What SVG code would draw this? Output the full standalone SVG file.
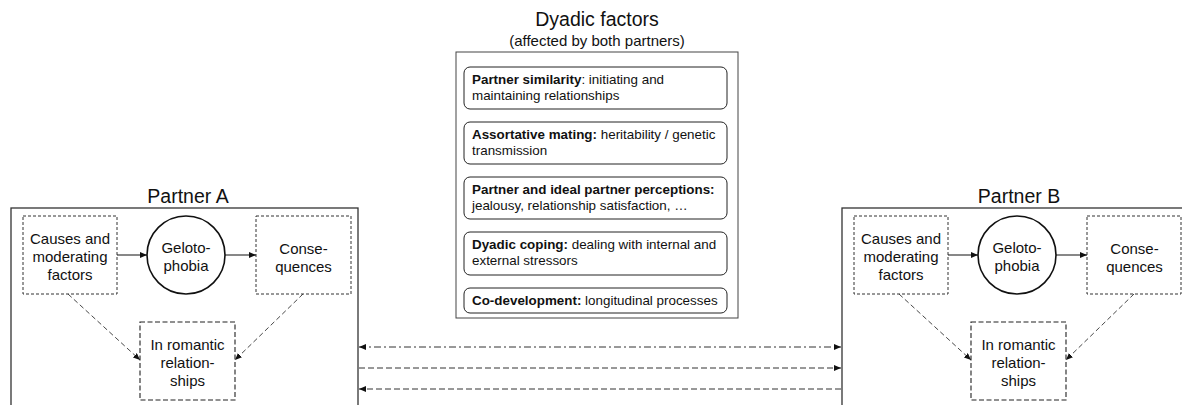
<svg xmlns="http://www.w3.org/2000/svg" width="1182" height="405" viewBox="0 0 1182 405">
  <style>
    text { font-family: "Liberation Sans", Arial, sans-serif; fill: #111; }
    .title { font-size: 19.5px; text-anchor: middle; }
    .sub { font-size: 15px; text-anchor: middle; }
    .lbl { font-size: 15px; text-anchor: middle; }
    .item { font-size: 13.4px; }
    .b { font-weight: bold; }
    .frame { fill: #fff; stroke: #333; stroke-width: 1.3; }
    .dframe { fill: #fff; stroke: #444; stroke-width: 1; }
    .item-box { fill: #fff; stroke: #222; stroke-width: 1; }
    .fine { fill: #fff; stroke: #333; stroke-width: 1; stroke-dasharray: 3 2; }
    .rom { fill: #fff; stroke: #222; stroke-width: 1.1; stroke-dasharray: 5 2.5; }
    .circ { fill: #fff; stroke: #111; stroke-width: 1.6; }
    .solid { stroke: #111; stroke-width: 1; fill: none; }
    .diag { stroke: #333; stroke-width: 0.9; fill: none; stroke-dasharray: 5 3; }
    .dashdot { stroke: #333; stroke-width: 1; fill: none; stroke-dasharray: 7 3 2 3; }
    .dash { stroke: #333; stroke-width: 1; fill: none; stroke-dasharray: 6 3; }
  </style>
  <defs>
    <marker id="head" viewBox="0 0 7 6" refX="7" refY="3" markerWidth="7" markerHeight="6" markerUnits="userSpaceOnUse" orient="auto-start-reverse">
      <path d="M0,0 L7,3 L0,6 z" fill="#111"/>
    </marker>
  </defs>

  <rect width="1182" height="405" fill="#fff"/>

  <!-- Partner A -->
  <g id="partner-a">
    <text class="title" x="188" y="203">Partner A</text>
    <rect class="frame" x="11" y="208" width="347" height="210"/>
  </g>
  <g id="a-causes">
    <rect class="fine" x="23" y="216" width="94" height="78"/>
    <text class="lbl" x="70" y="244">Causes and</text>
    <text class="lbl" x="70" y="262">moderating</text>
    <text class="lbl" x="70" y="280">factors</text>
  </g>
  <g id="a-gelotophobia">
    <circle class="circ" cx="186" cy="255" r="39"/>
    <text class="lbl" x="186" y="253">Geloto-</text>
    <text class="lbl" x="186" y="271">phobia</text>
  </g>
  <g id="a-consequences">
    <rect class="fine" x="256" y="216" width="95" height="78"/>
    <text class="lbl" x="303.5" y="254">Conse-</text>
    <text class="lbl" x="303.5" y="272">quences</text>
  </g>
  <g id="a-romantic">
    <rect class="rom" x="140" y="322" width="95" height="78"/>
    <text class="lbl" x="187.5" y="350">In romantic</text>
    <text class="lbl" x="187.5" y="368">relation-</text>
    <text class="lbl" x="187.5" y="386">ships</text>
  </g>

  <!-- Partner B -->
  <g id="partner-b">
    <text class="title" x="1019" y="203">Partner B</text>
    <rect class="frame" x="842" y="208" width="347" height="210"/>
  </g>
  <g id="b-causes">
    <rect class="fine" x="854" y="216" width="94" height="78"/>
    <text class="lbl" x="901" y="244">Causes and</text>
    <text class="lbl" x="901" y="262">moderating</text>
    <text class="lbl" x="901" y="280">factors</text>
  </g>
  <g id="b-gelotophobia">
    <circle class="circ" cx="1017" cy="255" r="39"/>
    <text class="lbl" x="1017" y="253">Geloto-</text>
    <text class="lbl" x="1017" y="271">phobia</text>
  </g>
  <g id="b-consequences">
    <rect class="fine" x="1087" y="216" width="94" height="78"/>
    <text class="lbl" x="1134.5" y="254">Conse-</text>
    <text class="lbl" x="1134.5" y="272">quences</text>
  </g>
  <g id="b-romantic">
    <rect class="rom" x="971" y="322" width="95" height="78"/>
    <text class="lbl" x="1018.5" y="350">In romantic</text>
    <text class="lbl" x="1018.5" y="368">relation-</text>
    <text class="lbl" x="1018.5" y="386">ships</text>
  </g>

  <!-- Dyadic factors -->
  <g id="dyadic">
    <text class="title" x="597" y="26">Dyadic factors</text>
    <text class="sub" x="597" y="46">(affected by both partners)</text>
    <rect class="dframe" x="456" y="52" width="282" height="266"/>
  </g>
  <g id="d-similarity">
    <rect class="item-box" x="464" y="67" width="263" height="42" rx="6"/>
    <text class="item" x="472" y="84"><tspan class="b">Partner similarity</tspan>: initiating and</text>
    <text class="item" x="472" y="100">maintaining relationships</text>
  </g>
  <g id="d-assortative">
    <rect class="item-box" x="464" y="122" width="263" height="42" rx="6"/>
    <text class="item" x="472" y="139"><tspan class="b">Assortative mating:</tspan> heritability / genetic</text>
    <text class="item" x="472" y="155">transmission</text>
  </g>
  <g id="d-perceptions">
    <rect class="item-box" x="464" y="177" width="263" height="42" rx="6"/>
    <text class="item b" x="472" y="194">Partner and ideal partner perceptions:</text>
    <text class="item" x="472" y="210">jealousy, relationship satisfaction, …</text>
  </g>
  <g id="d-coping">
    <rect class="item-box" x="464" y="232" width="263" height="43" rx="6"/>
    <text class="item" x="472" y="249"><tspan class="b">Dyadic coping:</tspan> dealing with internal and</text>
    <text class="item" x="472" y="265">external stressors</text>
  </g>
  <g id="d-codevelopment">
    <rect class="item-box" x="464" y="288" width="263" height="25" rx="6"/>
    <text class="item" x="472" y="305"><tspan class="b">Co-development:</tspan> longitudinal processes</text>
  </g>

  <!-- Connectors -->
  <g id="connectors">
    <line class="solid" x1="117" y1="255" x2="147" y2="255" marker-end="url(#head)"/>
    <line class="solid" x1="225" y1="255" x2="256" y2="255" marker-end="url(#head)"/>
    <line class="diag" x1="68" y1="294" x2="140" y2="360" marker-end="url(#head)"/>
    <line class="diag" x1="303" y1="294" x2="235" y2="360" marker-end="url(#head)"/>

    <line class="solid" x1="948" y1="255" x2="978" y2="255" marker-end="url(#head)"/>
    <line class="solid" x1="1056" y1="255" x2="1087" y2="255" marker-end="url(#head)"/>
    <line class="diag" x1="899" y1="294" x2="971" y2="360" marker-end="url(#head)"/>
    <line class="diag" x1="1134" y1="294" x2="1066" y2="360" marker-end="url(#head)"/>

    <line class="dashdot" x1="359" y1="347" x2="841" y2="347" marker-start="url(#head)" marker-end="url(#head)"/>
    <line class="dash" x1="359" y1="368" x2="841" y2="368" marker-end="url(#head)"/>
    <line class="dash" x1="841" y1="389" x2="359" y2="389" marker-end="url(#head)"/>
  </g>
</svg>
